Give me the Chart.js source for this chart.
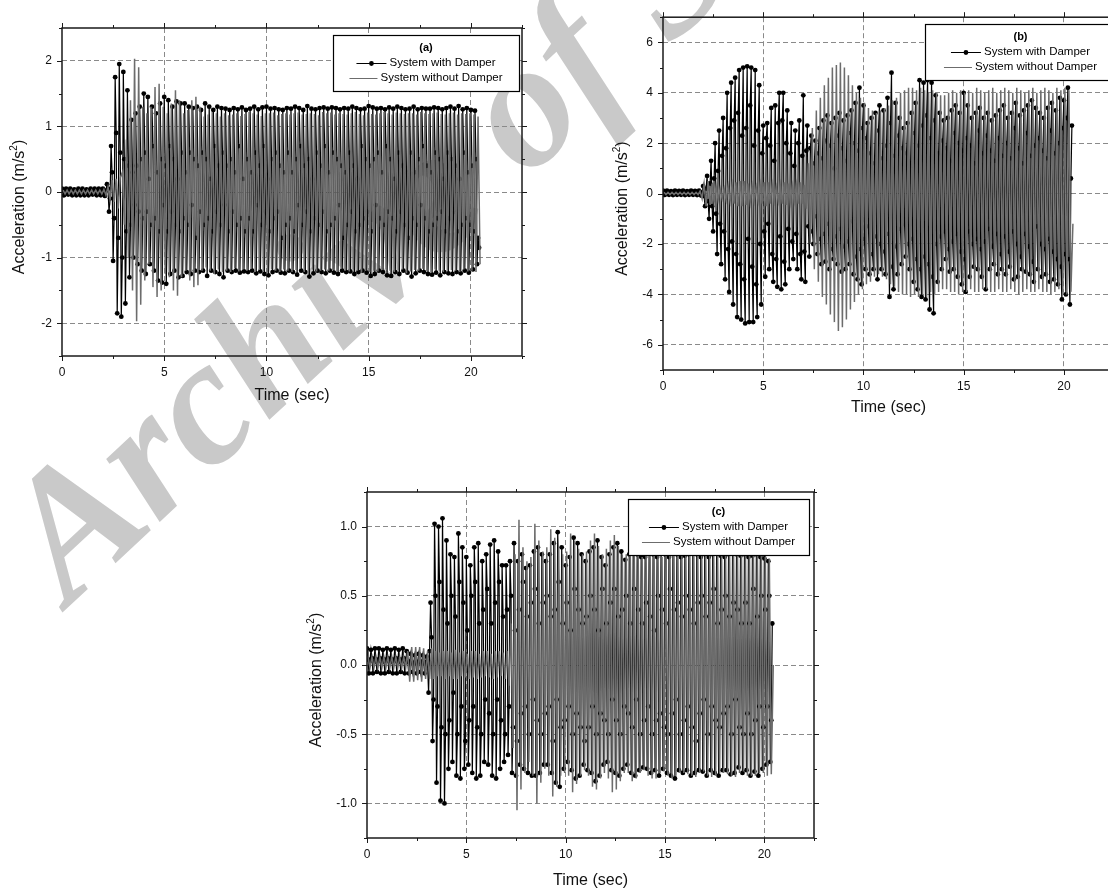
<!DOCTYPE html>
<html>
<head>
<meta charset="utf-8">
<title>Acceleration response with and without damper</title>
<script src="https://cdn.jsdelivr.net/npm/chart.js@4.4.1/dist/chart.umd.min.js"></script>
<style>
  html, body { margin: 0; padding: 0; background: #fff; }
  body { width: 1108px; height: 894px; overflow: hidden; position: relative; }
  #mark {
    position: absolute; left: 70px; top: 456px;
    font: bold italic 180px "Liberation Serif", "DejaVu Serif", serif;
    color: #c9c9c9; line-height: 1; white-space: nowrap;
    transform-origin: 0 151px; transform: rotate(-43deg);
  }
  canvas { position: absolute; }
  #chartA { left: 0; top: 0; }
  #chartB { left: 600px; top: 0; }
  #chartC { left: 300px; top: 470px; }
</style>
</head>
<body>
<div id="mark">Archive of SID</div>
<canvas id="chartA" width="545" height="420"></canvas>
<canvas id="chartB" width="530" height="430"></canvas>
<canvas id="chartC" width="540" height="424"></canvas>
<script>
// axis texts
const xTitle = 'Time (sec)';
const yTitle = ['Acceleration (m/s', '2', ')'];
const timeTicks = [0, 5, 10, 15, 20];
const timeLabels = ['0', '5', '10', '15', '20'];

// sampling: damped series every 0.05 s from 0, undamped every 0.1 s from 0.05
const dampStart = 0, dampStep = 0.05;
const freeStart = 0.05, freeStep = 0.1;

// panel (a)  (one row = 1 s)
const aAccTicks = [-2, -1, 0, 1, 2];
const aAccLabels = ['-2', '-1', '0', '1', '2'];
const aDamp = [
  0.05,0.02,-0.05,-0.01,0.05,0.01,-0.04,-0.02,0.05,0.02,-0.05,-0.01,0.04,0.01,-0.05,-0.02,0.05,0.02,-0.05,-0.01,
  0.05,0.01,-0.05,-0.02,0.04,0.02,-0.05,-0.01,0.05,0.01,-0.04,-0.02,0.05,0.02,-0.05,-0.01,0.05,0.01,-0.05,-0.02,
  0.05,0.0,-0.06,0.02,0.12,0.05,-0.3,-0.1,0.7,0.3,-1.05,-0.4,1.75,0.9,-1.85,-0.7,1.95,0.6,-1.9,-1.0,
  1.83,0.5,-1.7,-0.6,1.55,0.4,-1.3,-0.5,1.1,0.3,-1.0,-0.2,1.2,0.4,-1.1,-0.3,1.3,0.5,-1.2,-0.4,
  1.5,0.6,-1.25,-0.3,1.45,0.2,-1.1,-0.5,1.3,0.7,-1.2,-0.4,1.2,0.3,-1.35,-0.6,1.35,0.5,-1.38,-0.2,
  1.45,0.4,-1.4,-0.6,1.4,0.7,-1.25,-0.3,1.3,0.5,-1.2,-0.5,1.38,0.2,-1.3,-0.6,1.35,0.6,-1.28,-0.4,
  1.35,0.3,-1.22,-0.5,1.3,0.6,-1.25,-0.2,1.28,0.5,-1.2,-0.7,1.3,0.4,-1.22,-0.3,1.25,0.6,-1.2,-0.5,
  1.35,0.5,-1.28,-0.4,1.3,0.2,-1.2,-0.6,1.25,0.7,-1.22,-0.3,1.3,0.4,-1.25,-0.5,1.28,0.6,-1.3,-0.2,
  1.27,0.4,-1.2,-0.6,1.25,0.5,-1.22,-0.3,1.28,0.3,-1.2,-0.5,1.26,0.7,-1.23,-0.4,1.29,0.2,-1.21,-0.6,
  1.25,0.5,-1.22,-0.4,1.27,0.3,-1.2,-0.6,1.3,0.6,-1.24,-0.2,1.26,0.4,-1.21,-0.5,1.29,0.7,-1.25,-0.3,
  1.3,0.2,-1.27,-0.6,1.27,0.5,-1.22,-0.4,1.28,0.6,-1.2,-0.3,1.26,0.4,-1.23,-0.7,1.25,0.3,-1.24,-0.5,
  1.28,0.6,-1.2,-0.4,1.27,0.3,-1.22,-0.6,1.3,0.5,-1.26,-0.2,1.28,0.7,-1.2,-0.5,1.25,0.4,-1.22,-0.3,
  1.31,0.5,-1.29,-0.6,1.27,0.2,-1.24,-0.4,1.26,0.6,-1.2,-0.5,1.28,0.4,-1.22,-0.3,1.29,0.7,-1.24,-0.6,
  1.27,0.3,-1.2,-0.5,1.29,0.6,-1.23,-0.4,1.28,0.5,-1.25,-0.2,1.26,0.4,-1.2,-0.7,1.28,0.3,-1.22,-0.5,
  1.27,0.6,-1.21,-0.3,1.3,0.4,-1.25,-0.6,1.28,0.2,-1.22,-0.5,1.26,0.7,-1.2,-0.4,1.27,0.5,-1.23,-0.3,
  1.31,0.4,-1.28,-0.6,1.29,0.5,-1.25,-0.2,1.27,0.6,-1.2,-0.4,1.28,0.3,-1.22,-0.5,1.26,0.7,-1.27,-0.3,
  1.29,0.5,-1.28,-0.4,1.27,0.2,-1.22,-0.6,1.3,0.6,-1.25,-0.3,1.28,0.4,-1.2,-0.5,1.26,0.3,-1.23,-0.7,
  1.27,0.6,-1.29,-0.4,1.3,0.3,-1.24,-0.5,1.26,0.5,-1.2,-0.2,1.28,0.7,-1.22,-0.4,1.27,0.4,-1.25,-0.6,
  1.27,0.3,-1.26,-0.5,1.29,0.6,-1.23,-0.4,1.28,0.5,-1.27,-0.3,1.26,0.2,-1.22,-0.6,1.28,0.6,-1.24,-0.4,
  1.3,0.5,-1.25,-0.3,1.27,0.4,-1.22,-0.6,1.31,0.2,-1.24,-0.5,1.26,0.6,-1.2,-0.4,1.28,0.3,-1.23,-0.5,
  1.25,0.4,-1.18,-0.6,1.24,0.5,-1.1,-0.7,-0.85
];
const aFree = [
  0.03,-0.03,0.03,-0.03,0.03,-0.03,0.03,-0.03,0.03,-0.03,
  0.03,-0.03,0.03,-0.03,0.03,-0.03,0.03,-0.03,0.03,-0.03,
  0.04,-0.05,0.08,-0.12,0.18,-0.15,0.2,-0.25,0.22,0.3,
  -0.5,0.8,-1.0,1.4,-1.5,2.03,-1.97,1.9,-1.72,1.3,
  -1.35,1.2,-1.1,1.3,-1.45,1.6,-1.6,1.65,-1.5,1.3,
  -1.25,1.2,-1.3,1.35,-1.5,1.55,-1.58,1.4,-1.3,1.2,
  -1.2,1.25,-1.35,1.4,-1.45,1.45,-1.42,1.3,-1.2,1.15,
  -1.15,1.18,-1.2,1.22,-1.25,1.2,-1.18,1.15,-1.22,1.2,
  -1.2,1.17,-1.22,1.18,-1.16,1.2,-1.21,1.16,-1.18,1.19,
  -1.2,1.22,-1.17,1.2,-1.22,1.18,-1.19,1.16,-1.21,1.2,
  -1.23,1.2,-1.18,1.21,-1.2,1.17,-1.22,1.19,-1.18,1.2,
  -1.2,1.18,-1.22,1.2,-1.19,1.21,-1.17,1.18,-1.22,1.19,
  -1.25,1.2,-1.18,1.19,-1.21,1.17,-1.2,1.22,-1.18,1.2,
  -1.2,1.21,-1.19,1.18,-1.22,1.2,-1.17,1.19,-1.2,1.18,
  -1.21,1.2,-1.18,1.22,-1.2,1.19,-1.23,1.17,-1.2,1.21,
  -1.22,1.19,-1.2,1.18,-1.21,1.2,-1.19,1.22,-1.18,1.2,
  -1.2,1.18,-1.22,1.21,-1.19,1.2,-1.18,1.19,-1.24,1.2,
  -1.21,1.2,-1.19,1.18,-1.2,1.22,-1.17,1.2,-1.21,1.19,
  -1.23,1.2,-1.18,1.21,-1.2,1.19,-1.22,1.18,-1.2,1.2,
  -1.19,1.21,-1.2,1.18,-1.22,1.2,-1.18,1.19,-1.21,1.2,
  -1.2,1.18,-1.22,1.15,-1.1
];

// panel (b)
const bAccTicks = [-6, -4, -2, 0, 2, 4, 6];
const bAccLabels = ['-6', '-4', '-2', '0', '2', '4', '6'];
const bDamp = [
  0.12,0.04,-0.05,0.03,0.12,0.05,-0.05,0.02,0.1,0.03,-0.06,0.04,0.12,0.05,-0.05,0.02,0.11,0.04,-0.05,0.03,
  0.12,0.03,-0.06,0.04,0.1,0.05,-0.05,0.02,0.12,0.04,-0.05,0.03,0.11,0.05,-0.06,0.02,0.12,0.03,-0.08,0.05,
  0.3,-0.1,-0.5,0.2,0.7,-0.3,-1.0,0.4,1.3,-0.5,-1.5,0.6,2.0,-0.8,-2.4,0.9,2.5,-1.2,-2.8,1.5,
  3.0,-1.5,-3.4,1.8,4.0,-2.2,-3.9,2.6,4.4,-1.9,-4.4,2.9,4.6,-2.4,-4.9,3.2,4.9,-2.8,-5.0,2.3,
  5.0,-3.4,-5.15,2.6,5.05,-1.8,-5.1,3.5,5.0,-2.9,-5.1,1.9,4.9,-3.6,-4.9,2.5,4.3,-2.0,-4.4,1.6,
  2.7,-1.5,-3.3,2.2,2.8,-1.2,-3.0,1.9,3.4,-2.4,-3.5,1.3,3.5,-2.6,-3.7,2.8,4.0,-1.7,-3.8,2.9,
  4.0,-2.7,-3.6,2.0,3.3,-1.4,-3.0,1.6,2.8,-1.9,-2.6,1.1,2.5,-1.6,-3.0,2.0,2.9,-2.4,-3.4,1.5,
  3.9,-2.3,-3.5,1.7,2.7,-1.3,-2.5,1.8,2.3,-1.5,-2.0,1.2,2.1,-0.9,-2.4,1.6,2.6,-1.8,-2.8,1.4,
  2.9,-1.6,-2.7,2.1,3.1,-1.2,-3.0,1.9,2.8,-2.2,-2.6,1.0,3.0,-1.7,-2.8,2.3,3.2,-1.4,-3.1,1.8,
  2.9,-2.1,-3.0,1.3,3.1,-1.9,-2.8,2.4,3.3,-1.1,-3.2,2.0,3.6,-2.5,-3.4,1.7,4.2,-2.2,-3.6,2.6,
  3.5,-1.8,-3.0,2.2,2.8,-1.3,-3.2,1.6,3.0,-2.4,-3.0,1.2,3.2,-1.7,-3.4,2.5,3.5,-2.0,-3.0,1.4,
  3.3,-2.3,-3.2,1.9,3.8,-1.6,-4.1,2.8,4.8,-2.9,-3.8,1.5,3.6,-2.1,-3.2,2.3,3.0,-1.4,-2.8,1.8,
  2.6,-1.2,-2.5,1.6,2.8,-2.0,-3.0,1.1,3.2,-1.8,-3.5,2.4,3.6,-2.6,-3.8,1.9,4.5,-3.0,-4.1,2.7,
  4.4,-2.5,-4.2,3.1,4.5,-2.8,-4.6,2.2,4.4,-3.3,-4.75,2.9,3.9,-2.0,-3.5,1.6,3.2,-1.7,-3.0,2.1,
  2.9,-1.5,-2.6,1.8,3.0,-2.2,-3.1,1.3,3.3,-1.9,-3.0,2.4,3.5,-1.6,-3.3,2.0,3.2,-2.3,-3.6,1.7,
  4.0,-2.6,-3.9,2.2,3.5,-1.5,-3.3,1.9,3.0,-2.0,-2.9,1.2,3.2,-1.8,-3.0,2.5,3.4,-2.2,-3.3,1.6,
  3.0,-1.9,-3.8,2.3,3.2,-1.4,-3.0,1.7,2.9,-2.1,-2.8,1.3,3.1,-1.6,-3.2,2.2,3.3,-2.4,-3.0,1.5,
  3.5,-1.7,-3.2,2.0,3.0,-2.3,-2.9,1.4,3.2,-1.5,-3.4,2.6,3.6,-2.0,-3.3,1.8,3.1,-2.5,-3.0,1.2,
  3.3,-1.6,-3.1,2.4,3.5,-2.1,-3.2,1.5,3.7,-2.7,-3.5,1.9,3.4,-1.3,-3.0,2.2,3.2,-2.0,-3.3,1.7,
  3.0,-2.2,-3.2,1.4,3.4,-1.8,-3.5,2.5,3.6,-2.3,-3.4,1.6,3.3,-2.6,-3.6,2.0,3.8,-2.9,-4.2,2.6,
  3.7,-2.4,-4.0,3.0,4.2,-2.6,-4.4,0.6,2.7
];
const bFree = [
  0.05,-0.04,0.05,-0.04,0.05,-0.04,0.05,-0.04,0.05,-0.04,
  0.05,-0.04,0.05,-0.04,0.05,-0.04,0.05,-0.04,0.1,-0.2,
  0.4,-0.5,0.5,-0.45,0.4,-0.35,0.3,-0.25,0.2,-0.2,
  0.2,-0.25,0.3,-0.3,0.35,-0.4,0.45,-0.5,0.5,-0.5,
  0.5,-0.45,0.4,-0.35,0.3,-0.3,0.25,-0.3,0.35,-0.4,
  0.45,-0.5,0.45,-0.4,0.35,-0.3,0.25,-0.3,0.35,-0.4,
  0.45,-0.45,0.4,-0.35,0.3,-0.3,0.35,-0.4,0.45,-0.4,
  0.35,-0.6,1.2,-2.0,2.6,-3.0,3.3,-3.5,3.8,-4.1,
  4.3,-4.4,4.6,-4.8,5.0,-5.1,5.1,-5.45,5.2,-5.3,
  5.0,-5.0,4.7,-4.6,4.3,-4.3,4.0,-4.0,3.8,-3.8,
  3.6,-3.6,3.4,-3.5,3.3,-3.3,3.2,-3.2,3.3,-3.3,
  3.4,-3.4,3.5,-3.6,3.7,-3.7,3.8,-3.9,4.0,-4.0,
  4.1,-4.0,4.2,-4.1,4.2,-4.0,4.1,-4.1,4.2,-4.0,
  4.1,-4.1,4.0,-3.9,4.1,-4.0,4.0,-3.9,3.9,-3.8,
  3.9,-3.8,4.0,-3.9,4.1,-3.9,4.0,-4.0,4.1,-3.9,
  4.0,-3.9,4.1,-3.8,4.0,-3.9,4.2,-3.9,4.1,-3.8,
  4.0,-3.8,4.1,-3.9,4.2,-3.9,4.0,-3.8,4.1,-3.9,
  4.2,-3.9,4.1,-3.8,4.0,-3.9,4.2,-4.0,4.1,-3.9,
  4.0,-3.8,4.1,-3.9,4.2,-3.9,4.0,-3.8,4.1,-3.9,
  4.2,-3.9,4.1,-4.0,4.0,-3.9,4.2,-3.8,4.1,-3.9,
  4.2,-4.0,4.1,-3.9,-1.2
];

// panel (c)
const cAccTicks = [-1, -0.5, 0, 0.5, 1];
const cAccLabels = ['-1.0', '-0.5', '0.0', '0.5', '1.0'];
const cDamp = [
  0.12,0.04,-0.06,0.03,0.11,0.05,-0.06,0.02,0.12,0.04,-0.05,0.03,0.12,0.05,-0.06,0.02,0.11,0.04,-0.06,0.03,
  0.12,0.05,-0.05,0.02,0.11,0.04,-0.06,0.03,0.12,0.05,-0.06,0.02,0.11,0.04,-0.05,0.03,0.12,0.05,-0.06,0.02,
  0.1,0.03,-0.06,0.02,0.08,0.02,-0.05,0.01,0.07,0.02,-0.06,0.02,0.08,0.03,-0.05,0.01,0.07,0.02,-0.06,0.02,
  0.06,0.0,-0.2,0.1,0.45,0.2,-0.55,-0.25,1.02,0.5,-0.85,-0.3,1.0,0.6,-0.98,-0.45,1.06,0.4,-1.0,-0.5,
  0.9,0.3,-0.75,-0.4,0.8,0.5,-0.7,-0.2,0.78,0.35,-0.8,-0.5,0.95,0.6,-0.82,-0.3,0.85,0.45,-0.75,-0.55,
  0.78,0.25,-0.72,-0.4,0.72,0.5,-0.78,-0.3,0.85,0.6,-0.82,-0.45,0.88,0.3,-0.8,-0.5,0.75,0.4,-0.7,-0.25,
  0.8,0.55,-0.72,-0.35,0.87,0.3,-0.8,-0.5,0.9,0.45,-0.82,-0.25,0.82,0.6,-0.75,-0.4,0.72,0.35,-0.7,-0.5,
  0.72,0.4,-0.65,-0.3,0.75,0.5,-0.78,-0.45,0.88,0.25,-0.8,-0.55,0.75,0.4,-0.72,-0.35,0.8,0.6,-0.75,-0.3,
  0.7,0.35,-0.78,-0.5,0.72,0.45,-0.8,-0.25,0.82,0.55,-0.8,-0.4,0.85,0.3,-0.78,-0.5,0.8,0.45,-0.72,-0.35,
  0.75,0.5,-0.72,-0.3,0.8,0.35,-0.78,-0.55,0.88,0.4,-0.85,-0.25,0.96,0.6,-0.88,-0.45,0.85,0.3,-0.75,-0.4,
  0.72,0.45,-0.7,-0.3,0.78,0.25,-0.76,-0.5,0.92,0.55,-0.82,-0.35,0.88,0.4,-0.8,-0.45,0.8,0.3,-0.72,-0.55,
  0.75,0.35,-0.76,-0.45,0.82,0.5,-0.78,-0.3,0.85,0.4,-0.84,-0.5,0.9,0.25,-0.8,-0.35,0.78,0.55,-0.72,-0.4,
  0.72,0.3,-0.7,-0.5,0.8,0.45,-0.76,-0.25,0.85,0.55,-0.78,-0.4,0.88,0.35,-0.8,-0.5,0.82,0.4,-0.75,-0.3,
  0.76,0.5,-0.72,-0.35,0.8,0.3,-0.78,-0.45,0.84,0.55,-0.8,-0.25,0.8,0.4,-0.76,-0.5,0.78,0.3,-0.74,-0.4,
  0.78,0.45,-0.75,-0.3,0.82,0.35,-0.78,-0.5,0.8,0.25,-0.76,-0.4,0.78,0.5,-0.8,-0.35,0.82,0.4,-0.75,-0.45,
  0.8,0.3,-0.78,-0.5,0.78,0.55,-0.8,-0.35,0.82,0.4,-0.82,-0.25,0.8,0.45,-0.76,-0.5,0.78,0.35,-0.78,-0.4,
  0.79,0.5,-0.76,-0.3,0.8,0.4,-0.8,-0.45,0.82,0.3,-0.78,-0.55,0.8,0.45,-0.76,-0.35,0.78,0.5,-0.77,-0.25,
  0.8,0.35,-0.8,-0.5,0.78,0.45,-0.76,-0.3,0.8,0.55,-0.78,-0.4,0.82,0.3,-0.8,-0.45,0.79,0.4,-0.76,-0.35,
  0.78,0.5,-0.76,-0.3,0.8,0.35,-0.79,-0.5,0.82,0.45,-0.78,-0.25,0.8,0.4,-0.74,-0.45,0.79,0.3,-0.78,-0.5,
  0.8,0.45,-0.76,-0.35,0.78,0.3,-0.8,-0.5,0.79,0.55,-0.77,-0.4,0.8,0.35,-0.8,-0.3,0.78,0.5,-0.75,-0.45,
  0.77,0.4,-0.72,-0.3,0.75,0.5,-0.7,-0.4,0.3
];
const cFree = [
  0.06,-0.02,0.06,-0.02,0.06,-0.02,0.06,-0.02,0.06,-0.02,
  0.06,-0.02,0.06,-0.02,0.06,-0.02,0.06,-0.02,0.06,-0.02,
  0.1,-0.12,0.13,-0.12,0.13,-0.11,0.13,-0.12,0.12,-0.1,
  0.1,-0.1,0.12,-0.1,0.1,-0.08,0.09,-0.08,0.1,-0.1,
  0.1,-0.08,0.09,-0.1,0.11,-0.1,0.09,-0.08,0.1,-0.09,
  0.08,-0.1,0.1,-0.09,0.1,-0.1,0.08,-0.09,0.1,-0.08,
  0.1,-0.09,0.08,-0.1,0.1,-0.09,0.1,-0.08,0.09,-0.1,
  0.1,-0.15,0.3,-0.6,0.8,-1.05,1.05,-0.9,0.85,-0.78,
  0.75,-0.7,0.78,-0.8,1.02,-1.0,0.9,-0.85,0.82,-0.75,
  0.85,-0.8,0.98,-0.95,0.92,-0.88,0.85,-0.8,0.8,-0.78,
  0.82,-0.8,0.95,-0.92,0.9,-0.86,0.84,-0.8,0.8,-0.76,
  0.82,-0.8,0.9,-0.88,0.95,-0.9,0.86,-0.82,0.8,-0.78,
  0.84,-0.82,0.9,-0.92,0.94,-0.9,0.86,-0.84,0.8,-0.78,
  0.8,-0.78,0.84,-0.84,0.86,-0.82,0.8,-0.78,0.78,-0.76,
  0.8,-0.8,0.84,-0.82,0.85,-0.82,0.8,-0.78,0.78,-0.77,
  0.8,-0.8,0.83,-0.82,0.84,-0.8,0.8,-0.78,0.79,-0.78,
  0.8,-0.79,0.82,-0.8,0.83,-0.81,0.8,-0.78,0.79,-0.77,
  0.8,-0.8,0.82,-0.81,0.83,-0.8,0.8,-0.78,0.79,-0.78,
  0.8,-0.79,0.82,-0.8,0.83,-0.81,0.8,-0.78,0.79,-0.77,
  0.8,-0.8,0.82,-0.8,0.82,-0.8,0.8,-0.78,0.79,-0.78,
  0.78,-0.8,0.77,-0.79,0.0
];

const SANS = '"Liberation Sans", Arial, sans-serif';

// sampled series -> {x, y}
function samples(start, step, vals) {
  return vals.map((v, i) => ({ x: +(start + i * step).toFixed(2), y: v }));
}

// frame, outside ticks, axis titles and boxed legend (Origin look)
const originLook = {
  id: 'originLook',
  afterDraw(chart, args, o) {
    const ctx = chart.ctx, a = chart.chartArea;
    const sx = chart.scales.x, sy = chart.scales.y;
    ctx.save();
    ctx.strokeStyle = '#1a1a1a';
    ctx.lineWidth = 1;
    ctx.beginPath();
    sx.ticks.forEach(t => {
      const p = Math.round(sx.getPixelForValue(t.value)) + 0.5;
      const len = timeTicks.includes(t.value) ? 5 : 3;
      ctx.moveTo(p, a.bottom); ctx.lineTo(p, a.bottom + len);
      ctx.moveTo(p, a.top); ctx.lineTo(p, a.top - len);
    });
    sy.ticks.forEach(t => {
      const p = Math.round(sy.getPixelForValue(t.value)) + 0.5;
      const len = o.yMajor.includes(t.value) ? 5 : 3;
      ctx.moveTo(a.left, p); ctx.lineTo(a.left - len, p);
      ctx.moveTo(a.right, p); ctx.lineTo(a.right + len, p);
    });
    ctx.stroke();
    ctx.lineWidth = 1.5;
    ctx.strokeRect(a.left, a.top, a.right - a.left, a.bottom - a.top);

    // axis titles
    ctx.fillStyle = '#111';
    ctx.textBaseline = 'middle';
    ctx.textAlign = 'center';
    ctx.font = '16px ' + SANS;
    ctx.fillText(xTitle, (a.left + a.right) / 2, a.bottom + o.xGap);

    ctx.save();
    ctx.translate(a.left - o.yGap, (a.top + a.bottom) / 2 + 15);
    ctx.rotate(-Math.PI / 2);
    ctx.textAlign = 'left';
    const w1 = ctx.measureText(yTitle[0]).width;
    const w3 = ctx.measureText(yTitle[2]).width;
    ctx.font = '10px ' + SANS;
    const w2 = ctx.measureText(yTitle[1]).width;
    const px = -(w1 + w2 + w3) / 2;
    ctx.font = '16px ' + SANS;
    ctx.fillText(yTitle[0], px, 0);
    ctx.font = '10px ' + SANS;
    ctx.fillText(yTitle[1], px + w1, -6);
    ctx.font = '16px ' + SANS;
    ctx.fillText(yTitle[2], px + w1 + w2, 0);
    ctx.restore();

    // legend box
    const bw = o.legendWidth, bh = 56;
    const bx = Math.round(a.right - o.legendInset - bw), by = Math.round(a.top + 7);
    ctx.fillStyle = '#fff';
    ctx.fillRect(bx, by, bw, bh);
    ctx.strokeStyle = '#000';
    ctx.lineWidth = 1.2;
    ctx.strokeRect(bx + 0.5, by + 0.5, bw, bh);
    const cx = bx + bw / 2;
    ctx.fillStyle = '#000';
    ctx.textAlign = 'center';
    ctx.font = 'bold 11px ' + SANS;
    ctx.fillText(o.tag, cx, by + 13);
    ctx.font = '11.5px ' + SANS;
    ctx.textAlign = 'left';
    const sets = chart.data.datasets;
    const rows = [
      { ds: sets[1], len: 30, y: by + 28 },
      { ds: sets[0], len: 28, y: by + 43 }
    ];
    rows.forEach(r => {
      const w = r.len + 3 + ctx.measureText(r.ds.label).width;
      const x0 = cx - w / 2;
      ctx.strokeStyle = r.ds.borderColor;
      ctx.lineWidth = 1;
      ctx.beginPath();
      ctx.moveTo(x0, r.y + 0.5); ctx.lineTo(x0 + r.len, r.y + 0.5);
      ctx.stroke();
      if (r.ds.pointRadius > 0) {
        ctx.fillStyle = '#000';
        ctx.beginPath();
        ctx.arc(x0 + r.len / 2, r.y + 0.5, 2.4, 0, Math.PI * 2);
        ctx.fill();
      }
      ctx.fillStyle = '#000';
      ctx.fillText(r.ds.label, x0 + r.len + 3, r.y);
    });
    ctx.restore();
  }
};

function makeChart(id, p) {
  return new Chart(document.getElementById(id), {
    type: 'line',
    data: {
      datasets: [
        {
          label: 'System without Damper',
          data: samples(freeStart, freeStep, p.free),
          borderColor: '#6c6c6c', borderWidth: 1.5, pointRadius: 0, tension: 0
        },
        {
          label: 'System with Damper',
          data: samples(dampStart, dampStep, p.damp),
          borderColor: '#000', borderWidth: 1.2, tension: 0,
          pointRadius: 2.4, pointBackgroundColor: '#000', pointBorderWidth: 0
        }
      ]
    },
    options: {
      responsive: false,
      animation: false,
      events: [],
      layout: { padding: { top: p.top, right: p.right, bottom: 0, left: 0 } },
      plugins: {
        legend: { display: false },
        tooltip: { enabled: false },
        originLook: {
          tag: p.tag, yMajor: p.yTicks, xGap: p.xGap, yGap: p.yGap,
          legendInset: p.legendInset, legendWidth: p.legendWidth
        }
      },
      scales: {
        x: {
          type: 'linear', min: 0, max: 22.5,
          afterFit: s => { s.height = p.xHeight; },
          border: { display: false, dash: [5, 3] },
          grid: {
            drawTicks: false,
            color: c => timeTicks.includes(c.tick.value) && c.tick.value > 0 ? '#8a8a8a' : 'rgba(0,0,0,0)'
          },
          ticks: {
            stepSize: 2.5, autoSkip: false, maxRotation: 0, padding: 9,
            color: '#111', font: { family: SANS, size: 12 },
            callback: v => { const i = timeTicks.indexOf(v); return i < 0 ? '' : timeLabels[i]; }
          }
        },
        y: {
          min: p.yMin, max: p.yMax,
          afterFit: s => { s.width = p.yWidth; },
          border: { display: false, dash: [5, 3] },
          grid: {
            drawTicks: false,
            color: c => p.yTicks.includes(c.tick.value) ? '#8a8a8a' : 'rgba(0,0,0,0)'
          },
          ticks: {
            stepSize: p.yStep, autoSkip: false, padding: 10,
            color: '#111', font: { family: SANS, size: 12 },
            callback: v => { const i = p.yTicks.indexOf(v); return i < 0 ? '' : p.yLabels[i]; }
          }
        }
      }
    },
    plugins: [originLook]
  });
}

makeChart('chartA', {
  tag: '(a)', damp: aDamp, free: aFree,
  yMin: -2.5, yMax: 2.5, yStep: 0.5, yTicks: aAccTicks, yLabels: aAccLabels,
  top: 28, right: 23, yWidth: 62, xHeight: 64, xGap: 40, yGap: 42,
  legendInset: 3, legendWidth: 186
});
makeChart('chartB', {
  tag: '(b)', damp: bDamp, free: bFree,
  yMin: -7, yMax: 7, yStep: 1, yTicks: bAccTicks, yLabels: bAccLabels,
  top: 9, right: 16, yWidth: 63, xHeight: 60, xGap: 38, yGap: 40,
  legendInset: -2, legendWidth: 191
});
makeChart('chartC', {
  tag: '(c)', damp: cDamp, free: cFree,
  yMin: -1.25, yMax: 1.25, yStep: 0.25, yTicks: cAccTicks, yLabels: cAccLabels,
  top: 22, right: 26, yWidth: 67, xHeight: 56, xGap: 43, yGap: 50,
  legendInset: 5, legendWidth: 181
});
</script>
</body>
</html>
